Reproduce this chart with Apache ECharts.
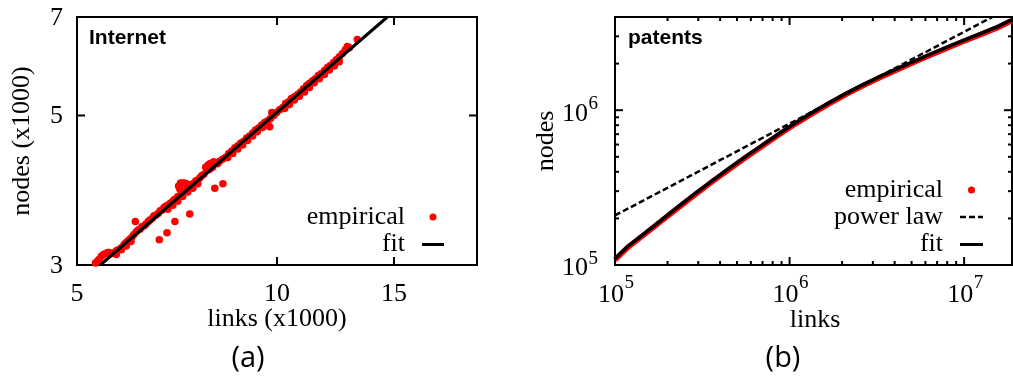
<!DOCTYPE html>
<html>
<head>
<meta charset="utf-8">
<title>Densification: nodes vs links</title>
<script src="https://cdn.jsdelivr.net/npm/echarts@6.0.0/dist/echarts.min.js"></script>
<style>
  html, body { margin: 0; padding: 0; background: #fff; }
  #chart { width: 1013px; height: 381px; }
</style>
</head>
<body>
<div id="chart"></div>
<script>
// (a) Internet snapshots: links vs nodes, both in thousands
const internetLinks = [
  5.33, 5.37, 5.40, 5.44, 5.48, 5.52, 5.56, 5.59, 5.63, 5.69,
  5.73, 5.77, 5.81, 5.85, 5.89, 5.93, 5.97, 6.01, 6.05, 6.12,
  6.09, 6.14, 6.18, 6.22, 6.26, 6.31, 6.35, 6.40, 6.44, 6.49,
  6.53, 6.58, 6.63, 6.67, 6.72, 6.65, 6.83, 7.02, 7.39, 6.76,
  6.81, 6.85, 6.90, 6.95, 7.00, 7.04, 7.09, 7.14, 7.19, 7.24,
  7.11, 7.16, 7.21, 7.26, 7.31, 7.14, 7.29, 7.34, 7.39, 7.44,
  7.50, 7.55, 7.60, 7.65, 7.70, 7.76, 7.81, 7.87, 7.92, 7.98,
  8.03, 8.09, 8.14, 8.20, 7.84, 7.92, 8.00, 8.06, 8.29, 8.29,
  8.38, 8.46, 8.55, 8.64, 8.73, 8.82, 8.91, 9.00, 9.09, 9.19,
  9.28, 9.38, 9.48, 9.58, 9.68, 9.75, 9.82, 9.78, 9.89, 9.99,
  10.09, 10.20, 10.30, 10.41, 10.51, 10.62, 10.74, 10.85, 10.96, 11.08,
  11.19, 11.31, 11.42, 11.54, 11.66, 11.79, 11.91, 12.03, 12.16, 12.28,
  12.41, 12.54, 12.67, 12.76, 12.85, 13.21,
  5.73, 5.83, 5.93, 6.03, 6.85, 6.97, 7.09, 7.21, 7.34, 7.47,
  7.60, 8.43, 8.58, 8.73, 8.88, 9.03, 9.19, 9.34, 9.51, 9.68,
  10.27, 10.44, 10.62, 10.81, 11.00, 11.19, 11.38, 11.58, 11.79, 11.99,
  12.20, 12.41
];
const internetNodes = [
  3.02, 3.04, 3.06, 3.09, 3.11, 3.12, 3.13, 3.13, 3.12, 3.13,
  3.15, 3.16, 3.17, 3.19, 3.22, 3.24, 3.26, 3.28, 3.30, 3.48,
  3.33, 3.36, 3.38, 3.39, 3.42, 3.43, 3.45, 3.48, 3.50, 3.52,
  3.55, 3.56, 3.58, 3.61, 3.62, 3.27, 3.35, 3.48, 3.57, 3.65,
  3.67, 3.68, 3.70, 3.72, 3.75, 3.76, 3.79, 3.80, 3.83, 3.85,
  3.93, 3.97, 3.97, 3.97, 3.96, 3.89, 3.87, 3.89, 3.92, 3.95,
  3.97, 4.00, 4.01, 4.04, 4.07, 4.09, 4.19, 4.22, 4.24, 4.25,
  4.27, 4.25, 4.24, 4.28, 4.14, 4.16, 4.19, 3.90, 3.96, 4.31,
  4.34, 4.39, 4.43, 4.48, 4.51, 4.55, 4.58, 4.63, 4.66, 4.71,
  4.76, 4.79, 4.84, 4.88, 4.91, 4.81, 5.05, 4.95, 5.00, 5.05,
  5.10, 5.14, 5.21, 5.24, 5.30, 5.33, 5.37, 5.42, 5.48, 5.54,
  5.58, 5.63, 5.67, 5.73, 5.77, 5.83, 5.89, 5.93, 5.99, 6.05,
  6.11, 6.18, 6.26, 6.33, 6.30, 6.48,
  3.11, 3.16, 3.20, 3.25, 3.63, 3.68, 3.73, 3.79, 3.85, 3.90,
  3.96, 4.33, 4.39, 4.46, 4.52, 4.59, 4.66, 4.73, 4.80, 4.87,
  5.12, 5.19, 5.27, 5.34, 5.42, 5.50, 5.59, 5.67, 5.75, 5.84,
  5.92, 6.01
];
const internetFitLinks = [5.42, 14.66];
const internetFitNodes = [3, 7];
const internetXRange = [5, 20];
const internetYRange = [3, 7];
const internetXTicks = [5, 10, 15];
const internetXTickLabels = ['5', '10', '15'];
const internetYTicks = [3, 5, 7];
const internetYTickLabels = ['3', '5', '7'];

// (b) patents citation graph
const patentLinks = [
  1.00e5, 1.198e5, 1.494e5, 1.862e5, 2.32e5, 2.893e5, 3.606e5, 4.495e5, 5.603e5, 6.994e5,
  8.717e5, 1.087e6, 1.355e6, 1.689e6, 2.105e6, 2.624e6, 3.27e6, 4.076e6, 5.08e6, 6.334e6,
  7.896e6, 9.842e6, 1.227e7, 1.529e7, 1.866e7
];
const patentNodesEmpirical = [
  1.08e5, 1.315e5, 1.595e5, 1.94e5, 2.36e5, 2.865e5, 3.455e5, 4.145e5, 4.955e5, 5.88e5,
  6.96e5, 8.20e5, 9.55e5, 1.103e6, 1.265e6, 1.438e6, 1.62e6, 1.812e6, 2.024e6, 2.255e6,
  2.506e6, 2.777e6, 3.068e6, 3.388e6, 3.78e6
];
const patentNodesFit = [
  1.10e5, 1.335e5, 1.62e5, 1.97e5, 2.40e5, 2.91e5, 3.51e5, 4.21e5, 5.03e5, 5.97e5,
  7.07e5, 8.33e5, 9.70e5, 1.12e6, 1.285e6, 1.46e6, 1.645e6, 1.84e6, 2.055e6, 2.29e6,
  2.545e6, 2.82e6, 3.115e6, 3.44e6, 3.83e6
];
const powerLawLinks = [1e5, 1.45e7];
const powerLawNodes = [2.09e5, 4.0e6];
const patentXRange = [1e5, 1.88e7];
const patentYRange = [1e5, 4e6];
const patentXMajor = [1e5, 1e6, 1e7];
const patentXExponents = ['5', '6', '7'];
const patentXMinor = [2e5, 3e5, 4e5, 5e5, 6e5, 7e5, 8e5, 9e5, 2e6, 3e6, 4e6, 5e6, 6e6, 7e6, 8e6, 9e6];
const patentYMajor = [1e5, 1e6];
const patentYExponents = ['5', '6'];
const patentYMinor = [2e5, 3e5, 4e5, 5e5, 6e5, 7e5, 8e5, 9e5, 2e6, 3e6];

const SERIF = '"Liberation Serif", "Times New Roman", serif';
const SANS = '"Liberation Sans", Arial, sans-serif';
const CAPTION = '"Open Sans", "DejaVu Sans", sans-serif';
const RED = '#ff0000';

const zip = (a, b) => a.map((v, i) => [v, b[i]]);

function logAxis(gridIndex, range) {
  return {
    type: 'log', logBase: 10, gridIndex, min: range[0], max: range[1],
    axisLine: { show: false }, axisTick: { show: false }, axisLabel: { show: false },
    splitLine: { show: false }, minorTick: { show: false }, minorSplitLine: { show: false }
  };
}

function text(x, y, str, size, align, family, weight) {
  return {
    type: 'text', x, y, silent: true,
    style: {
      text: str, fill: '#000', fontSize: size, fontFamily: family || SERIF,
      fontWeight: weight || 'normal', align, textAlign: align,
      verticalAlign: 'middle', textVerticalAlign: 'middle'
    }
  };
}

// Inward tick marks on both opposite frame sides, with optional labels
function ticks(gridIndex, dim, values, ref, len, drawLabel) {
  return {
    type: 'custom', xAxisIndex: gridIndex, yAxisIndex: gridIndex,
    clip: false, silent: true, z: 10,
    data: values.map(v => (dim === 'x' ? [v, ref] : [ref, v])),
    renderItem(params, api) {
      const cs = params.coordSys;
      const p = api.coord([api.value(0), api.value(1)]);
      const seg = (x1, y1, x2, y2) => ({
        type: 'line', shape: { x1, y1, x2, y2 }, style: { stroke: '#000', lineWidth: 2 }
      });
      const kids = [];
      if (dim === 'x') {
        const b = cs.y + cs.height, t = cs.y;
        kids.push(seg(p[0], b, p[0], b - len), seg(p[0], t, p[0], t + len));
      } else {
        const l = cs.x, r = cs.x + cs.width;
        kids.push(seg(l, p[1], l + len, p[1]), seg(r, p[1], r - len, p[1]));
      }
      if (drawLabel) kids.push(...drawLabel(params.dataIndex, p, cs));
      return { type: 'group', children: kids };
    }
  };
}

const option = {
  animation: false,
  backgroundColor: '#fff',
  grid: [
    { left: 77, top: 17, width: 400, height: 248, show: true, borderColor: '#000', borderWidth: 2, backgroundColor: 'transparent' },
    { left: 615, top: 17, width: 397, height: 248, show: true, borderColor: '#000', borderWidth: 2, backgroundColor: 'transparent' }
  ],
  xAxis: [logAxis(0, internetXRange), logAxis(1, patentXRange)],
  yAxis: [logAxis(0, internetYRange), logAxis(1, patentYRange)],
  series: [
    {
      name: 'empirical', type: 'scatter', xAxisIndex: 0, yAxisIndex: 0, silent: true,
      symbol: 'circle', symbolSize: 7.5, itemStyle: { color: RED, opacity: 1 }, z: 2,
      data: zip(internetLinks, internetNodes)
    },
    {
      name: 'fit', type: 'line', xAxisIndex: 0, yAxisIndex: 0, silent: true,
      symbol: 'none', lineStyle: { color: '#000', width: 3 }, z: 3,
      data: zip(internetFitLinks, internetFitNodes)
    },
    {
      name: 'empirical', type: 'line', xAxisIndex: 1, yAxisIndex: 1, silent: true,
      symbol: 'none', lineStyle: { color: RED, width: 5.5 }, z: 2,
      data: zip(patentLinks, patentNodesEmpirical)
    },
    {
      name: 'fit', type: 'line', xAxisIndex: 1, yAxisIndex: 1, silent: true,
      symbol: 'none', lineStyle: { color: '#000', width: 3.5 }, z: 3,
      data: zip(patentLinks, patentNodesFit)
    },
    {
      name: 'power law', type: 'line', xAxisIndex: 1, yAxisIndex: 1, silent: true,
      symbol: 'none', lineStyle: { color: '#000', width: 2.5, type: [6, 3] }, z: 4,
      data: zip(powerLawLinks, powerLawNodes)
    },
    ticks(0, 'x', internetXTicks, internetYRange[0], 8, (i, p, cs) => [
      text(p[0], cs.y + cs.height + 29, internetXTickLabels[i], 26, 'center')
    ]),
    ticks(0, 'y', internetYTicks, internetXRange[0], 8, (i, p, cs) => [
      text(cs.x - 14, p[1] + 1, internetYTickLabels[i], 26, 'right')
    ]),
    ticks(1, 'x', patentXMajor, patentYRange[0], 8, (i, p, cs) => [
      text(p[0] + 9, cs.y + cs.height + 30, '10', 26, 'right'),
      text(p[0] + 9.5, cs.y + cs.height + 18, patentXExponents[i], 19, 'left')
    ]),
    ticks(1, 'x', patentXMinor, patentYRange[0], 4),
    ticks(1, 'y', patentYMajor, patentXRange[0], 8, (i, p, cs) => [
      text(cs.x - 27, p[1] + 3.5, '10', 26, 'right'),
      text(cs.x - 26.5, p[1] - 6, patentYExponents[i], 19, 'left')
    ]),
    ticks(1, 'y', patentYMinor, patentXRange[0], 4)
  ],
  graphic: [
    // panel tags
    text(89, 38, 'Internet', 21, 'left', SANS, 'bold'),
    text(628, 38, 'patents', 21, 'left', SANS, 'bold'),
    // axis names
    Object.assign(text(22, 141, 'nodes (x1000)', 26, 'center'), { rotation: Math.PI / 2 }),
    text(277, 319, 'links (x1000)', 26, 'center'),
    Object.assign(text(546, 141, 'nodes', 26, 'center'), { rotation: Math.PI / 2 }),
    text(815, 320, 'links', 26, 'center'),
    // sub-figure captions
    text(248, 359, '(a)', 29, 'center', CAPTION),
    text(783, 359, '(b)', 29, 'center', CAPTION),
    // key, panel (a)
    text(405, 217, 'empirical', 26, 'right'),
    { type: 'circle', silent: true, shape: { cx: 433, cy: 217, r: 3.5 }, style: { fill: RED } },
    text(405, 244, 'fit', 26, 'right'),
    { type: 'line', silent: true, shape: { x1: 422, y1: 244.5, x2: 444, y2: 244.5 }, style: { stroke: '#000', lineWidth: 3 } },
    // key, panel (b)
    text(943, 190, 'empirical', 26, 'right'),
    { type: 'circle', silent: true, shape: { cx: 971.5, cy: 190, r: 3.5 }, style: { fill: RED } },
    text(943, 217, 'power law', 26, 'right'),
    { type: 'line', silent: true, shape: { x1: 960, y1: 217, x2: 983, y2: 217 }, style: { stroke: '#000', lineWidth: 2.5, lineDash: [6, 3] } },
    text(943, 244, 'fit', 26, 'right'),
    { type: 'line', silent: true, shape: { x1: 960, y1: 244.5, x2: 983, y2: 244.5 }, style: { stroke: '#000', lineWidth: 3 } }
  ]
};

const chart = echarts.init(document.getElementById('chart'), null, { renderer: 'canvas' });
chart.setOption(option);
</script>
</body>
</html>
